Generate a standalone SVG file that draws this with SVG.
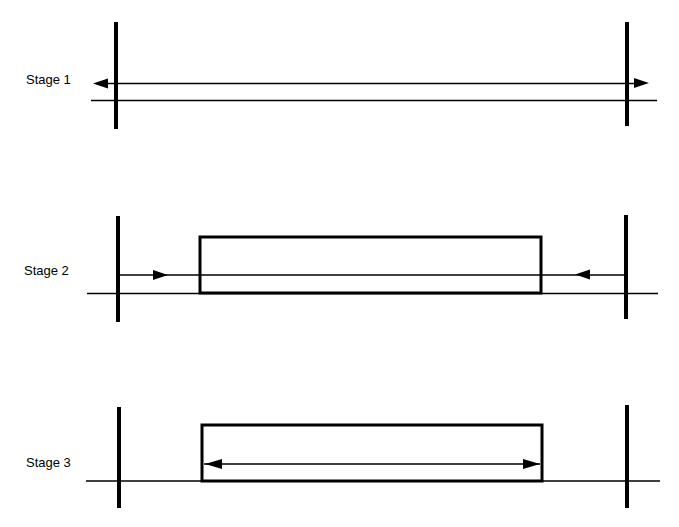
<svg xmlns="http://www.w3.org/2000/svg" width="679" height="527" viewBox="0 0 679 527">
<style>
.bar{stroke:#000;stroke-width:4;stroke-linecap:butt}
.thin{stroke:#000;stroke-width:1.5;fill:none}
.box{stroke:#000;stroke-width:3;fill:none}
.lbl{font-family:"Liberation Sans",Arial,sans-serif;font-size:13px;fill:#000}
.head{fill:#000;stroke:none}
</style>
<rect width="679" height="527" fill="#fff"/>
<g id="stage1">
<text class="lbl" x="26" y="84">Stage 1</text>
<line class="bar" x1="116" y1="22" x2="116" y2="129"/>
<line class="bar" x1="627" y1="22" x2="627" y2="126"/>
</g>
<g id="stage2">
<text class="lbl" x="24" y="275">Stage 2</text>
<line class="bar" x1="118" y1="216" x2="118" y2="322"/>
<line class="bar" x1="626" y1="215" x2="626" y2="319"/>
<rect class="box" x="200" y="237" width="341" height="56"/>
</g>
<g id="stage3">
<text class="lbl" x="26" y="467">Stage 3</text>
<line class="bar" x1="119" y1="407" x2="119" y2="508"/>
<line class="bar" x1="627" y1="405" x2="627" y2="508"/>
<rect class="box" x="202" y="425" width="340" height="56"/>
</g>
<g id="connectors">
<line class="thin" x1="100" y1="83.5" x2="640" y2="83.5"/>
<polygon class="head" points="93,83.5 108,78.5 108,88.5"/>
<polygon class="head" points="649,83 634,78 634,88"/>
<line class="thin" x1="91" y1="100.5" x2="657" y2="100.5"/>
<line class="thin" x1="118" y1="275" x2="626" y2="275"/>
<polygon class="head" points="168,275 153,270 153,280"/>
<polygon class="head" points="575,274.5 590,269.5 590,279.5"/>
<line class="thin" x1="87" y1="293.5" x2="658" y2="293.5"/>
<line class="thin" x1="86" y1="481" x2="660" y2="481"/>
<line class="thin" x1="204" y1="464" x2="540" y2="464"/>
<polygon class="head" points="205,464 222,459 222,469"/>
<polygon class="head" points="540,464 523,459 523,469"/>
</g>
</svg>
